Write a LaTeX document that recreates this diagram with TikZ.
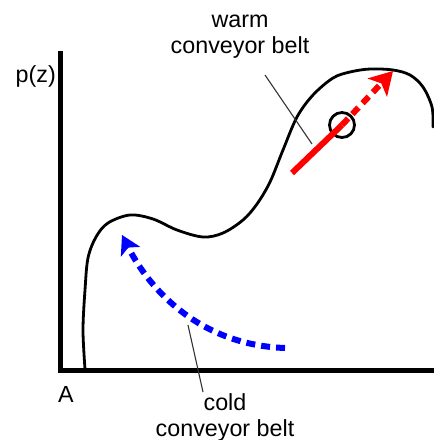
\documentclass[tikz,border=0pt]{standalone}
\usepackage{fontspec}
\setmainfont{Liberation Sans}
\usetikzlibrary{arrows.meta}
\definecolor{warmred}{RGB}{255,0,0}
\definecolor{coldblue}{RGB}{0,0,255}

\begin{document}
\begin{tikzpicture}[x=1pt,y=-1pt,
  axis/.style={line width=5pt},
  profile/.style={line width=2.8pt,line join=round,line cap=round},
  belt/.style={line width=6pt,dash pattern=on 9pt off 6pt},
  leader/.style={line width=1.1pt,black!80},
  parcel/.style={circle,draw,line width=2.8pt,minimum size=25pt,inner sep=0pt},
  lab/.style={font=\fontsize{23.3}{26}\selectfont,inner sep=0pt,align=center}]
  \useasboundingbox (0,0) rectangle (434,440);
  % axes
  \coordinate (top) at (60,51);
  \coordinate (O) at (60,370);
  \coordinate (right) at (434,370);
  \draw[axis] (top) -- (O) -- (right);
  \node[lab,anchor=east] (pz) at (56,76) {p(z)};
  \node[lab] (A) at (66,394) {A};
  % the profile
  \draw[profile] plot[smooth,tension=0.55] coordinates {(85,369) (83,330) (85,290) (88,258)
    (96,237) (108,223) (130,215) (153,219) (177,230) (203,237) (223,233) (243,220) (257,204)
    (270,182) (283,150) (297,117) (313,95) (333,78) (350,72) (370,69) (393,70) (410,75)
    (423,87) (432,107) (433,127)};
  % warm conveyor belt
  \coordinate (wtail) at (292,173);
  \node[parcel] (air) at (342,125) {};
  \coordinate (whead) at (393,71);
  \draw[warmred,line width=6pt] (wtail) -- (air.center);
  \draw[belt,warmred,-{Stealth[length=23pt,width=27pt,inset=6pt,line width=0pt]}] (air.center) -- (whead);
  \node[lab,anchor=base] (warm) at (240,53) {warm\\conveyor belt};
  \coordinate (wl1) at (265,75);
  \coordinate (wl2) at (312,144);
  \draw[leader] (wl1) -- (wl2);
  % cold conveyor belt
  \coordinate (ctail) at (285,348);
  \coordinate (chead) at (122,235);
  \draw[belt,coldblue,-{Stealth[length=19pt,width=22pt,inset=5pt,line width=0pt]}] (ctail) .. controls (200,345) and (150,290) .. (chead);
  \node[lab,anchor=base] (cold) at (225,436) {cold\\conveyor belt};
  \coordinate (cl1) at (188,325);
  \coordinate (cl2) at (203,392);
  \draw[leader] (cl1) -- (cl2);
\end{tikzpicture}
\end{document}
